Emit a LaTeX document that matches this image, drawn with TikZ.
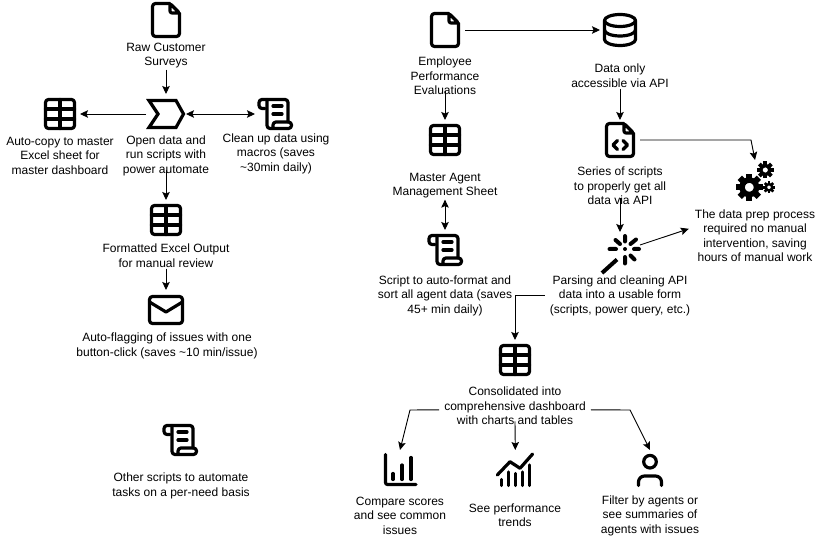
\documentclass[tikz,border=0pt]{standalone}
\usepackage{fontspec}
\setmainfont{Liberation Sans}
\usetikzlibrary{arrows.meta,calc}
\newcommand{\cogat}[3]{%
  \draw[line width=0.41*#3 pt] (#1,#2) circle (0.535*#3);
  \foreach \a in {0,45,...,315}
    \draw[line width=0.45*#3 pt] ($(#1,#2)+(\a:0.6*#3)$) -- ($(#1,#2)+(\a:#3)$);
}
\tikzset{
  x=1pt,y=-1pt,
  lbl/.style={align=center,inner sep=1pt,yshift=-0.8pt,font=\fontsize{12}{14.5}\selectfont},
  iconbox/.style={minimum width=36pt,minimum height=36pt,inner sep=0pt,outer sep=2pt},
  arr/.style={-{Stealth[length=8pt,width=7.5pt,inset=1.5pt]},line width=0.9pt},
  dbl/.style={{Stealth[length=8pt,width=7.5pt,inset=1.5pt]}-{Stealth[length=8pt,width=7.5pt,inset=1.5pt]},line width=0.9pt},
  ico/.style={line width=3.2pt,line join=round,line cap=round},
  sheeticon/.pic={
    \draw[ico,rounded corners=3pt] (-14.5,-14.5) rectangle (14.5,14.5);
    \draw[ico] (-14.5,-5) -- (14.5,-5) (-14.5,5) -- (14.5,5) (0,-14.5) -- (0,14.5);
  },
  docicon/.pic={
    \draw[ico,rounded corners=3pt] (4,-16.5) -- (-13.5,-16.5) -- (-13.5,16.5) -- (13.5,16.5) -- (13.5,-7);
    \draw[ico,rounded corners=2pt] (4,-16.5) -- (4,-7) -- (13.5,-7) -- cycle;
  },
  codeicon/.pic={
    \pic {docicon};
    \draw[ico] (-2.5,0.5) -- (-7,5) -- (-2.5,9.5) (3,0.5) -- (7.5,5) -- (3,9.5);
  },
  chevicon/.pic={
    \draw[line width=3.2pt,miter limit=10] (-17,-13.5) -- (10,-13.5) -- (17.5,0) -- (10,13.5) -- (-17,13.5) -- (-8,0) -- cycle;
  },
  scrollicon/.pic={
    \draw[ico,rounded corners=3pt] (-10,-5.5) -- (-16,-5.5) -- (-16,-14.5) -- (13,-14.5) -- (13,8);
    \draw[ico,rounded corners=3pt] (-8,-14.5) -- (-8,14.5) -- (16.5,14.5) -- (16.5,8) -- (-2,8) -- (-2,14.5);
    \draw[ico] (-2,-8) -- (7,-8) (-2,0) -- (7,0);
  },
  mailicon/.pic={
    \draw[ico,rounded corners=3pt] (-16.5,-13.5) rectangle (16.5,13.5);
    \draw[ico] (-16.5,-8) -- (0,2) -- (16.5,-8);
  },
  dbicon/.pic={
    \draw[ico] (0,-9.5) ellipse [x radius=15.5,y radius=6];
    \draw[ico] (-15.5,-9.5) -- (-15.5,9.5) arc[start angle=180,end angle=0,x radius=15.5,y radius=6] -- (15.5,-9.5);
    \draw[ico] (-15.5,0) arc[start angle=180,end angle=0,x radius=15.5,y radius=6];
  },
  wandicon/.pic={
    \begin{scope}[shift={(5,-5)}]
      \draw[line width=4pt] (-23,24) -- (-8,10.5);
      \draw[line width=4pt,line cap=round] (0,-13) -- (0,-7.5) (-15.5,0) -- (-9,0) (9,0) -- (14,0) (0,8) -- (0,14.5)
        (5.5,-5) -- (11,-9.5) (-9.5,-9) -- (-5,-5) (5.5,6.5) -- (9.5,10.5);
      \fill (0,0) circle (2);
    \end{scope}
  },
  gearsicon/.pic={
    \cogat{-5.7}{7.3}{13.5}
    \cogat{10.3}{-10}{8.5}
    \cogat{14}{7.3}{6}
  },
  baricon/.pic={
    \draw[ico,rounded corners=2pt] (-14.5,-15.5) -- (-14.5,14.5) -- (16,14.5);
    \draw[ico] (-7,3.5) -- (-7,9.5) (2,-5) -- (2,9.5) (11,-12.5) -- (11,9.5);
  },
  trendicon/.pic={
    \draw[ico] (-18,5) -- (-5.3,-8.3) -- (4.7,-1.7) -- (17.3,-16);
    \draw[ico] (-14,9.5) -- (-14,15.5) (-7,2) -- (-7,15.5) (0,3.5) -- (0,15.5) (7,2) -- (7,15.5) (14,-5) -- (14,15.5);
  },
  personicon/.pic={
    \draw[ico] (0,-8.3) circle (6.3);
    \draw[ico,rounded corners=6pt] (-11.5,15.5) -- (-11.5,6) -- (11.5,6) -- (11.5,15.5);
  },
}
\begin{document}
\begin{tikzpicture}
  \path[use as bounding box,fill=white] (0,0) rectangle (820,537);
  % left flow
  \node[iconbox] (rawdoc) at (166,20) {};
  \node[lbl] (rawlbl) at (166,55) {Raw Customer\\Surveys};
  \node[iconbox] (openchev) at (166,114) {};
  \node[lbl] (openlbl) at (166,155) {Open data and\\run scripts with\\power automate};
  \node[iconbox] (copysheet) at (60,114) {};
  \node[lbl] (copylbl) at (60,155) {Auto-copy to master\\Excel sheet for\\master dashboard};
  \node[iconbox] (macroscroll) at (275,114) {};
  \node[lbl] (macrolbl) at (276,153) {Clean up data using\\macros (saves\\\textasciitilde30min daily)};
  \node[iconbox] (fmtsheet) at (166,220) {};
  \node[lbl] (fmtlbl) at (166,255) {Formatted Excel Output\\for manual review};
  \node[iconbox] (flagmail) at (166,310) {};
  \node[lbl] (flaglbl) at (167,345) {Auto-flagging of issues with one\\button-click (saves \textasciitilde10 min/issue)};
  \node[iconbox] (otherscroll) at (180,440) {};
  \node[lbl] (otherlbl) at (181,485) {Other scripts to automate\\tasks on a per-need basis};
  \pic at (rawdoc) {docicon};
  \pic at (openchev) {chevicon};
  \pic at (copysheet) {sheeticon};
  \pic at (macroscroll) {scrollicon};
  \pic at (fmtsheet) {sheeticon};
  \pic at (flagmail) {mailicon};
  \pic at (otherscroll) {scrollicon};
  \draw[arr] (rawlbl) -- (openchev);
  \draw[arr] (openchev) -- (copysheet);
  \draw[dbl] (openchev) -- (macroscroll);
  \draw[arr] ([yshift=7.5pt]openlbl.south) -- (fmtsheet);
  \draw[arr] (fmtlbl) -- (flagmail);
  % right flow
  \node[iconbox] (evaldoc) at (445,30) {};
  \node[lbl] (evallbl) at (445,75) {Employee\\Performance\\Evaluations};
  \node[iconbox] (agentsheet) at (445,140) {};
  \node[lbl] (agentlbl) at (445,185) {Master Agent\\Management Sheet};
  \node[iconbox] (agentscroll) at (445,250) {};
  \node[lbl] (agentscrlbl) at (445,295) {Script to auto-format and\\sort all agent data (saves\\45+ min daily)};
  \node[iconbox] (apidb) at (620,30) {};
  \node[lbl] (apilbl) at (620,75) {Data only\\accessible via API};
  \node[iconbox] (codedoc) at (620,140) {};
  \node[lbl] (codelbl) at (620,185) {Series of scripts\\to properly get all\\data via API};
  \node[iconbox,minimum width=42pt,minimum height=40pt] (wand) at (620,254) {};
  \node[lbl] (parselbl) at (620,295) {Parsing and cleaning API\\data into a usable form\\(scripts, power query, etc.)};
  \node[iconbox] (gears) at (755,180) {};
  \node[lbl] (preplbl) at (755,235) {The data prep process\\required no manual\\intervention, saving\\hours of manual work};
  \node[iconbox] (dashsheet) at (515,360) {};
  \node[lbl] (dashlbl) at (515,405) {Consolidated into\\comprehensive dashboard\\with charts and tables};
  \node[iconbox] (scorechart) at (400,470) {};
  \node[lbl] (scorelbl) at (400,515) {Compare scores\\and see common\\issues};
  \node[iconbox] (trendchart) at (515.3,470) {};
  \node[lbl] (trendlbl) at (515,514.5) {See performance\\trends};
  \node[iconbox] (agentuser) at (650,470) {};
  \node[lbl] (userlbl) at (650,515) {Filter by agents or\\see summaries of\\agents with issues};
  \pic at (evaldoc) {docicon};
  \pic at (agentsheet) {sheeticon};
  \pic at (agentscroll) {scrollicon};
  \pic at (apidb) {dbicon};
  \pic at (codedoc) {codeicon};
  \pic at (wand) {wandicon};
  \pic at (gears) {gearsicon};
  \pic at (dashsheet) {sheeticon};
  \pic at (scorechart) {baricon};
  \pic at (trendchart) {trendicon};
  \pic at (agentuser) {personicon};
  \coordinate (gearbend) at (751,140);
  \coordinate (leftbend) at (410,410);
  \coordinate (rightbend) at (630,410);
  \draw[arr] ([yshift=4.5pt]evallbl.south) -- (agentsheet);
  \draw[dbl] (agentlbl) -- (agentscroll);
  \draw[arr] (evaldoc) -- (apidb);
  \draw[arr] (apilbl) -- (codedoc);
  \draw[arr] (codedoc) -- (gearbend) -- (gears.north);
  \draw[arr] ([yshift=7.5pt]codelbl.south) -- (wand);
  \draw[arr] ([shift={(-3,-9)}]wand.east) -- ([shift={(-5,-7)}]preplbl.west);
  \draw[arr] ([xshift=-4pt]parselbl.west) -| (dashsheet);
  \draw[arr] ([shift={(-4,4)}]dashlbl.west) -- (leftbend) -- (scorechart.north);
  \draw[arr] ([yshift=4.5pt]dashlbl.south) -- (trendchart.north);
  \draw[arr] ([shift={(4,4)}]dashlbl.east) -- (rightbend) -- (agentuser.north);
\end{tikzpicture}
\end{document}
